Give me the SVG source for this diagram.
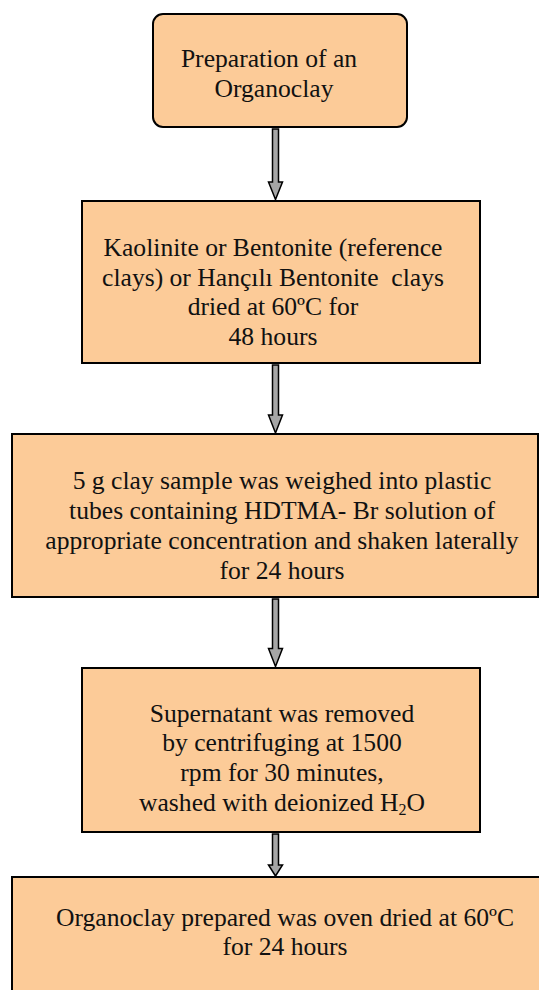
<svg xmlns="http://www.w3.org/2000/svg" width="539" height="990" viewBox="0 0 539 990">
<style>
.box{fill:#fccb98;stroke:#000;stroke-width:2}
.arr{fill:#a6a6a6;stroke:#000;stroke-width:1.5;stroke-linejoin:miter}
</style>
<rect width="539" height="990" fill="#fff"/>
<g id="connectors">
<path class="arr" d="M272.5,129 H278.5 V182 H282.5 L275.5,199.5 L268.5,182 H272.5 Z"/>
<path class="arr" d="M272.5,365 H278.5 V415 H282.5 L275.5,433 L268.5,415 H272.5 Z"/>
<path class="arr" d="M272.5,599 H278.5 V648.5 H282.5 L275.5,666.5 L268.5,648.5 H272.5 Z"/>
<path class="arr" d="M272.5,834 H278.5 V865 H282.5 L275.5,876 L268.5,865 H272.5 Z"/>
</g>
<g font-family="Liberation Serif" font-size="25.6" fill="#111" text-anchor="middle">
<g id="node1">
<rect class="box" x="153" y="14" width="254" height="113" rx="10"/>
<text x="269" y="66.5">Preparation of an</text>
<text x="274" y="96.5">Organoclay</text>
</g>
<g id="node2">
<rect class="box" x="82" y="201" width="398" height="162"/>
<text x="273" y="256">Kaolinite or Bentonite (reference</text>
<text x="273" y="286" xml:space="preserve">clays) or Hançılı Bentonite  clays</text>
<text x="273" y="315">dried at 60ºC for</text>
<text x="273" y="345">48 hours</text>
</g>
<g id="node3">
<rect class="box" x="12" y="434" width="526" height="163"/>
<text x="282" y="488.5">5 g clay sample was weighed into plastic</text>
<text x="282" y="518.5">tubes containing HDTMA- Br solution of</text>
<text x="282" y="548.5">appropriate concentration and shaken laterally</text>
<text x="282" y="578.5">for 24 hours</text>
</g>
<g id="node4">
<rect class="box" x="82" y="668" width="398" height="164"/>
<text x="282" y="721.5">Supernatant was removed</text>
<text x="282" y="751">by centrifuging at 1500</text>
<text x="282" y="781">rpm for 30 minutes,</text>
<text x="282" y="811">washed with deionized H<tspan font-size="16" dy="4">2</tspan><tspan dy="-4">O</tspan></text>
</g>
<g id="node5">
<rect class="box" x="12" y="877" width="540" height="130"/>
<text x="285" y="926">Organoclay prepared was oven dried at 60ºC</text>
<text x="285" y="955">for 24 hours</text>
</g>
</g>
</svg>
